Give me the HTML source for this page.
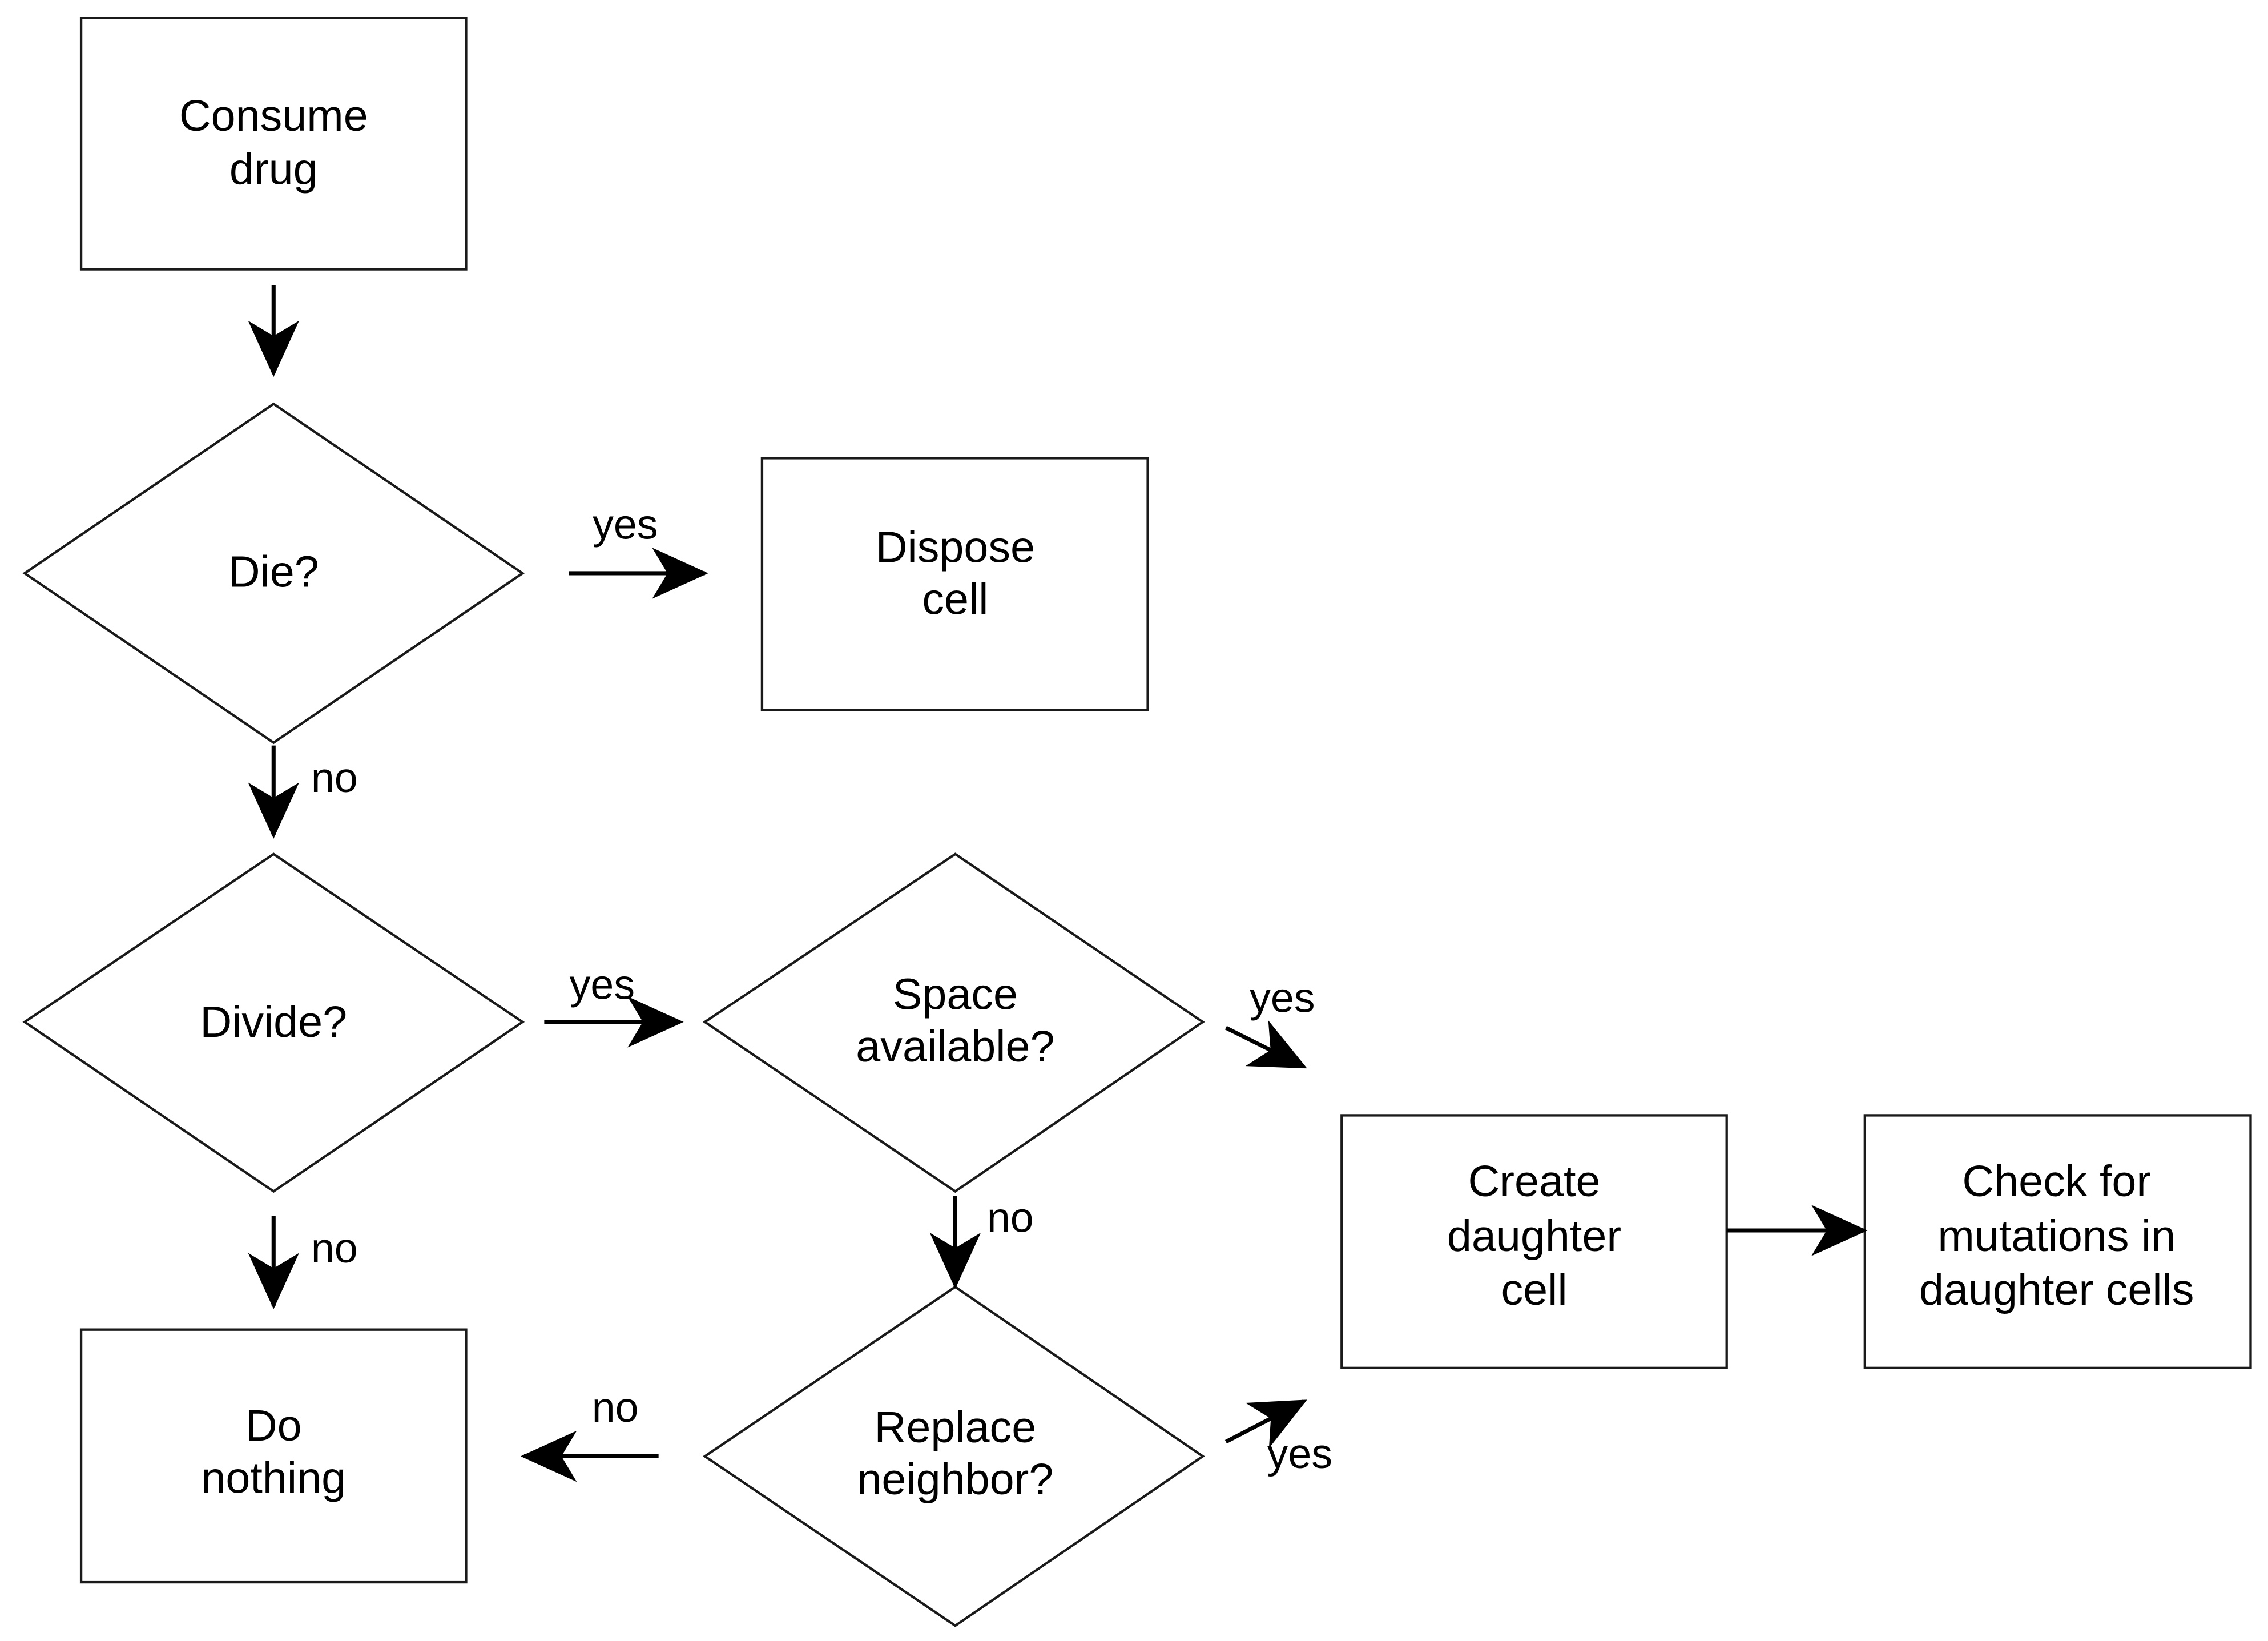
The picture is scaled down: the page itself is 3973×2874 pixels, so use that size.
<!DOCTYPE html>
<html><head><meta charset="utf-8"><style>
html,body{margin:0;padding:0;background:#fff;}
svg{display:block;}
text{font-family:"Liberation Sans",Arial,sans-serif;fill:#000;}
</style></head><body>
<svg width="3973" height="2874" viewBox="0 0 1567 1133.6" xmlns="http://www.w3.org/2000/svg">
<defs>
<marker id="ah" markerUnits="userSpaceOnUse" markerWidth="40" markerHeight="40" refX="31" refY="15" orient="auto" viewBox="0 0 34 30">
<path d="M0,0 L33,15 L0,30 L9,15 Z" fill="#000"/>
</marker>
</defs>
<g fill="#fff" stroke="#1a1a1a" stroke-width="1.7">
<rect x="56" y="12.5" width="266" height="173.5"/>
<rect x="526.5" y="316.5" width="266.5" height="174"/>
<rect x="927" y="770.5" width="266" height="174.5"/>
<rect x="1288.5" y="770.5" width="266.5" height="174.5"/>
<rect x="56" y="918.5" width="266" height="174.5"/>
<polygon points="189,279 361,396 189,513 17,396"/>
<polygon points="189,590 361,706 189,823 17,706"/>
<polygon points="660,590 831,706 660,823 487,706"/>
<polygon points="660,889 831,1006 660,1123 487,1006"/>
</g>
<g stroke="#000" stroke-width="2.8" fill="none" marker-end="url(#ah)">
<line x1="189" y1="197" x2="189" y2="258"/>
<line x1="393" y1="396" x2="487" y2="396"/>
<line x1="189" y1="515" x2="189" y2="577"/>
<line x1="376" y1="706" x2="470" y2="706"/>
<line x1="847" y1="710" x2="901" y2="737"/>
<line x1="1193" y1="850" x2="1288" y2="850"/>
<line x1="660" y1="826" x2="660" y2="888"/>
<line x1="455" y1="1006" x2="362" y2="1006"/>
<line x1="847" y1="996" x2="901" y2="968"/>
<line x1="189" y1="840" x2="189" y2="902"/>
</g>
<g font-size="30.5" text-anchor="middle" dominant-baseline="central">
<text x="189" y="80">Consume</text><text x="189" y="117">drug</text>
<text x="189" y="395">Die?</text>
<text x="660" y="378">Dispose</text><text x="660" y="414">cell</text>
<text x="189" y="706">Divide?</text>
<text x="660" y="687">Space</text><text x="660" y="723">available?</text>
<text x="1060" y="816">Create</text><text x="1060" y="854">daughter</text><text x="1060" y="891">cell</text>
<text x="1421" y="816">Check for</text><text x="1421" y="854">mutations in</text><text x="1421" y="891">daughter cells</text>
<text x="660" y="986">Replace</text><text x="660" y="1022">neighbor?</text>
<text x="189" y="985">Do</text><text x="189" y="1021">nothing</text>
</g>
<g font-size="29" text-anchor="middle" dominant-baseline="central">
<text x="432" y="362">yes</text>
<text x="231" y="537">no</text>
<text x="416" y="680">yes</text>
<text x="886" y="689">yes</text>
<text x="698" y="841">no</text>
<text x="425" y="972">no</text>
<text x="898" y="1004">yes</text>
<text x="231" y="862">no</text>
</g>
</svg>
</body></html>
